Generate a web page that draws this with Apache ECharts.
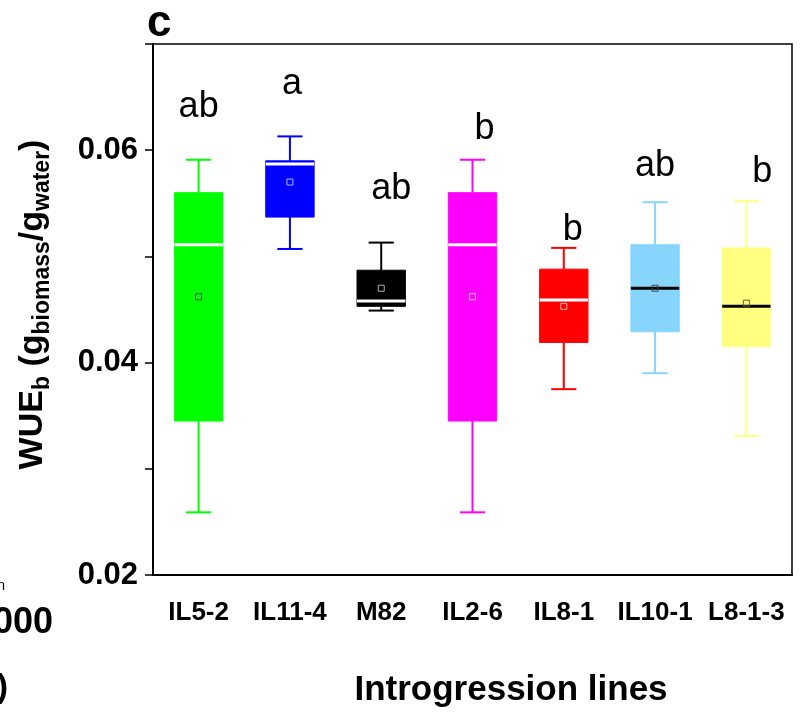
<!DOCTYPE html>
<html>
<head>
<meta charset="utf-8">
<script src="https://cdn.jsdelivr.net/npm/echarts@6/dist/echarts.min.js"></script>
<style>
  html, body { margin: 0; padding: 0; background: #fff; }
  #main { width: 807px; height: 713px; }
</style>
</head>
<body>
<div id="main"></div>
<script>
// data (WUEb, g biomass / g water)
const categories = ['IL5-2', 'IL11-4', 'M82', 'IL2-6', 'IL8-1', 'IL10-1', 'L8-1-3'];
const whiskerLow = [0.0259, 0.0507, 0.0449, 0.0259, 0.0375, 0.0390, 0.0331];
const q1 = [0.0345, 0.0537, 0.0453, 0.0345, 0.0419, 0.0429, 0.0415];
const median = [0.0511, 0.0587, 0.0458, 0.0511, 0.0459, 0.0470, 0.0453];
const q3 = [0.0560, 0.0590, 0.0487, 0.0560, 0.0488, 0.0511, 0.0508];
const whiskerHigh = [0.0591, 0.0613, 0.0513, 0.0591, 0.0508, 0.0551, 0.0552];
const means = [0.0462, 0.0570, 0.0470, 0.0462, 0.0453, 0.0470, 0.0456];
const letters = ['ab', 'a', 'ab', 'b', 'b', 'ab', 'b'];
const letterY = [0.0641, 0.0662, 0.0563, 0.0620, 0.0525, 0.0585, 0.0579];

// styles
const boxColors = ['#00ff00', '#0000ff', '#000000', '#ff00ff', '#ff0000', '#87d4fc', '#ffff80'];
const medianColors = ['#ffffff', '#ffffff', '#ffffff', '#ffffff', '#ffffff', '#000000', '#000000'];
const meanColors = ['#2e5a2e', '#b4b4ff', '#b0b0b0', '#ffb4ff', '#ffb4b4', '#334455', '#6b6030'];
const letterDx = [0, 2, 10, 12, 9, 0, 16];

const FONT = '"Liberation Sans", Arial, sans-serif';

function renderBox(params, api) {
  const i = api.value(0);
  const x = api.coord([i, 0.05])[0];
  const yLow = api.coord([i, api.value(1)])[1];
  const yQ1 = api.coord([i, api.value(2)])[1];
  const yMed = api.coord([i, api.value(3)])[1];
  const yQ3 = api.coord([i, api.value(4)])[1];
  const yHigh = api.coord([i, api.value(5)])[1];
  const yMean = api.coord([i, api.value(6)])[1];
  const bw = api.size([1, 0])[0] * 0.53;
  const cw = bw * 0.52;
  const c = boxColors[i];
  const lineStyle = { stroke: c, lineWidth: 2 };
  return {
    type: 'group',
    children: [
      { type: 'line', shape: { x1: x, y1: yQ3, x2: x, y2: yHigh }, style: lineStyle },
      { type: 'line', shape: { x1: x, y1: yQ1, x2: x, y2: yLow }, style: lineStyle },
      { type: 'line', shape: { x1: x - cw / 2, y1: yHigh, x2: x + cw / 2, y2: yHigh }, style: lineStyle },
      { type: 'line', shape: { x1: x - cw / 2, y1: yLow, x2: x + cw / 2, y2: yLow }, style: lineStyle },
      { type: 'rect', shape: { x: x - bw / 2, y: yQ3, width: bw, height: yQ1 - yQ3 }, style: { fill: c, stroke: c, lineWidth: 1 } },
      { type: 'line', shape: { x1: x - bw / 2, y1: yMed, x2: x + bw / 2, y2: yMed }, style: { stroke: medianColors[i], lineWidth: 3 } },
      { type: 'rect', shape: { x: x - 3, y: yMean - 3, width: 6, height: 6 }, style: { fill: 'none', stroke: meanColors[i], lineWidth: 1 } }
    ]
  };
}

window.onload = function () {
  const chart = echarts.init(document.getElementById('main'));

  const boxData = categories.map(function (name, i) {
    return [i, whiskerLow[i], q1[i], median[i], q3[i], whiskerHigh[i], means[i]];
  });
  const letterData = categories.map(function (name, i) {
    return {
      value: [i, letterY[i]],
      label: { formatter: letters[i], offset: [letterDx[i], 0] }
    };
  });

  const option = {
    animation: false,
    backgroundColor: '#fff',
    grid: {
      left: 153, right: 15, top: 44, bottom: 138,
      show: true, borderColor: '#000', borderWidth: 1.5, backgroundColor: 'transparent'
    },
    xAxis: {
      type: 'category',
      data: categories,
      boundaryGap: true,
      axisLine: { lineStyle: { color: '#000', width: 2 } },
      axisTick: { alignWithLabel: true, length: 10, lineStyle: { color: '#000', width: 1.5 } },
      axisLabel: { interval: 0, color: '#000', fontFamily: FONT, fontWeight: 'bold', fontSize: 26, margin: 25 }
    },
    yAxis: {
      type: 'value',
      min: 0.02, max: 0.07, interval: 0.01,
      splitLine: { show: false },
      axisLine: { show: true, lineStyle: { color: '#000', width: 2 } },
      axisTick: { show: true, length: 8, lineStyle: { color: '#000', width: 1.5 } },
      axisLabel: {
        color: '#000', fontFamily: FONT, fontWeight: 'bold', fontSize: 31, margin: 15,
        formatter: function (v) {
          const k = Math.round(v * 100);
          return (k % 2 === 0 && k < 7) ? v.toFixed(2) : '';
        }
      },
      name: '{m|WUE}{s|b}{m| (g}{s|biomass}{m|/g}{s|water}{m|)}',
      nameLocation: 'middle',
      nameRotate: 90,
      nameGap: 99,
      nameTextStyle: {
        color: '#000',
        padding: [0, 0, 0, 10],
        rich: {
          m: { fontFamily: FONT, fontWeight: 'bold', fontSize: 34, color: '#000' },
          s: { fontFamily: FONT, fontWeight: 'bold', fontSize: 23, color: '#000', padding: [20, 0, 0, 0] }
        }
      }
    },
    graphic: [
      { type: 'text', left: 147, top: 2, style: { text: 'c', font: 'bold 44px ' + FONT, fill: '#000' } },
      { type: 'text', x: 511, y: 690, style: { text: 'Introgression lines', font: 'bold 35px ' + FONT, fill: '#000', align: 'center', verticalAlign: 'middle' } },
      { type: 'text', x: 53, y: 623, style: { text: '2000', font: 'bold 36px ' + FONT, fill: '#000', align: 'right', verticalAlign: 'middle' } },
      { type: 'text', x: 8, y: 688, style: { text: ')', font: 'bold 34px ' + FONT, fill: '#000', align: 'right', verticalAlign: 'middle' } },
      { type: 'text', x: 5, y: 586, style: { text: 'n', font: '14px ' + FONT, fill: '#000', align: 'right', verticalAlign: 'middle' } }
    ],
    series: [
      {
        type: 'custom',
        renderItem: renderBox,
        data: boxData,
        encode: { x: 0, y: [1, 2, 3, 4, 5, 6] },
        z: 2
      },
      {
        type: 'scatter',
        data: letterData,
        symbolSize: 0,
        silent: true,
        itemStyle: { opacity: 1 },
        label: {
          show: true, position: 'inside', color: '#000', opacity: 1,
          fontFamily: FONT, fontSize: 36
        },
        z: 3
      }
    ]
  };
  chart.setOption(option);
};
</script>
</body>
</html>
